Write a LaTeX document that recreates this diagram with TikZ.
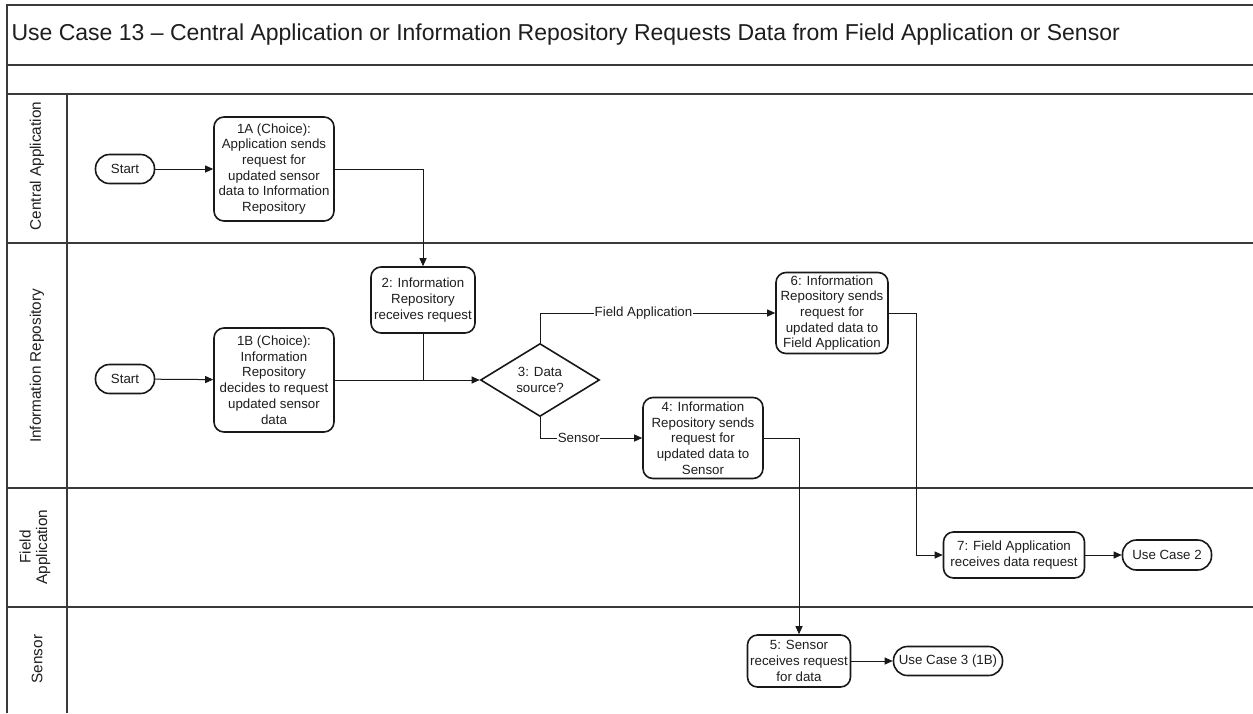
\documentclass[tikz,border=0pt]{standalone}
\usepackage{fontspec}
\setmainfont{Liberation Sans}
\usetikzlibrary{arrows.meta,shapes.geometric}
\definecolor{frm}{HTML}{3A3A3A}
\definecolor{txt}{HTML}{1E1E1E}
\begin{document}
\begin{tikzpicture}[x=1pt,y=-1pt,
  frame/.style={draw=frm,line width=1.6pt},
  proc/.style={draw=black!90,line width=1.6pt,rounded corners=10pt,align=center,inner sep=0pt,
    text=txt,font=\fontsize{13.3}{15.7}\selectfont},
  term/.style={draw=black!90,line width=1.6pt,rounded corners=14pt,align=center,inner sep=0pt,
    minimum height=29pt,text=txt,font=\fontsize{13.3}{15.7}\selectfont},
  decision/.style={diamond,draw=black!90,line width=1.6pt,align=center,inner sep=0pt,
    text=txt,font=\fontsize{13.3}{15.7}\selectfont},
  lane/.style={rotate=90,align=center,text=txt,font=\fontsize{15.3}{16.5}\selectfont},
  arr/.style={draw=black!90,line width=1pt,-{Triangle[length=8pt,width=7pt]}},
  conn/.style={draw=black!90,line width=1pt},
  lbl/.style={fill=white,inner sep=0.5pt,text=txt,font=\fontsize{13.3}{15}\selectfont}]
\useasboundingbox[fill=white] (0,0) rectangle (1253,713);
% frame
\draw[frame] (1253,5) -- (7,5) -- (7,713);
\draw[frame] (7,65) -- (1253,65);
\draw[frame] (7,94) -- (1253,94);
\draw[frame] (7,243) -- (1253,243);
\draw[frame] (7,488) -- (1253,488);
\draw[frame] (7,607) -- (1253,607);
\draw[frame] (67,94) -- (67,713);
\node[anchor=west,text=txt,font=\fontsize{23}{26}\selectfont] (title) at (8,35)
  {Use Case 13 – Central Application or Information Repository Requests Data from Field Application or Sensor};
% lanes
\node[lane] (l1) at (37,166) {Central Application};
\node[lane] (l2) at (37,366) {Information Repository};
\node[lane] (l3) at (35,547) {Field\\Application};
\node[lane] (l4) at (37,659) {Sensor};
% nodes
\node[term,minimum width=59pt] (s1) at (125,169) {Start};
\node[proc,minimum width=120pt,minimum height=104pt] (a1) at (274,169)
  {1A (Choice):\\Application sends\\request for\\updated sensor\\data to Information\\Repository};
\node[term,minimum width=59pt] (s2) at (125,379) {Start};
\node[proc,minimum width=120pt,minimum height=104pt] (b1) at (274,380)
  {1B (Choice):\\Information\\Repository\\decides to request\\updated sensor\\data};
\node[proc,minimum width=104pt,minimum height=66pt] (n2) at (423,300)
  {2: Information\\Repository\\receives request};
\node[decision,minimum width=119pt,minimum height=73pt] (d3) at (540,380)
  {3: Data\\source?};
\node[proc,minimum width=112pt,minimum height=81pt] (n6) at (832,313)
  {6: Information\\Repository sends\\request for\\updated data to\\Field Application};
\node[proc,minimum width=120pt,minimum height=81pt] (n4) at (703,438)
  {4: Information\\Repository sends\\request for\\updated data to\\Sensor};
\node[proc,minimum width=103pt,minimum height=52pt] (n5) at (799,661)
  {5: Sensor\\receives request\\for data};
\node[term,minimum width=109pt] (uc3) at (948,661) {Use Case 3 (1B)};
\node[proc,minimum width=141pt,minimum height=46pt] (n7) at (1014,555)
  {7: Field Application\\receives data request};
\node[term,minimum width=89pt,minimum height=30pt] (uc2) at (1167,555) {Use Case 2};
% connectors
\draw[arr] (s1) -- (a1);
\draw[arr] (s2) -- (b1);
\draw[arr] (a1.east) -| (n2.north);
\coordinate (j) at (n2.south |- b1.east);
\draw[conn] (n2.south) -- (j);
\draw[arr] (b1.east) -- (d3.west);
\draw[arr] (d3.north) |- node[lbl,pos=0.72]{Field Application} (n6.west);
\draw[arr] (d3.south) |- node[lbl,pos=0.69]{Sensor} (n4.west);
\draw[arr] (n4.east) -| (n5.north);
\draw[arr] (n5) -- (uc3);
\coordinate (c6) at ([xshift=28pt]n6.east);
\draw[arr] (n6.east) -- (c6) |- (n7.west);
\draw[arr] (n7) -- (uc2);
\end{tikzpicture}
\end{document}
